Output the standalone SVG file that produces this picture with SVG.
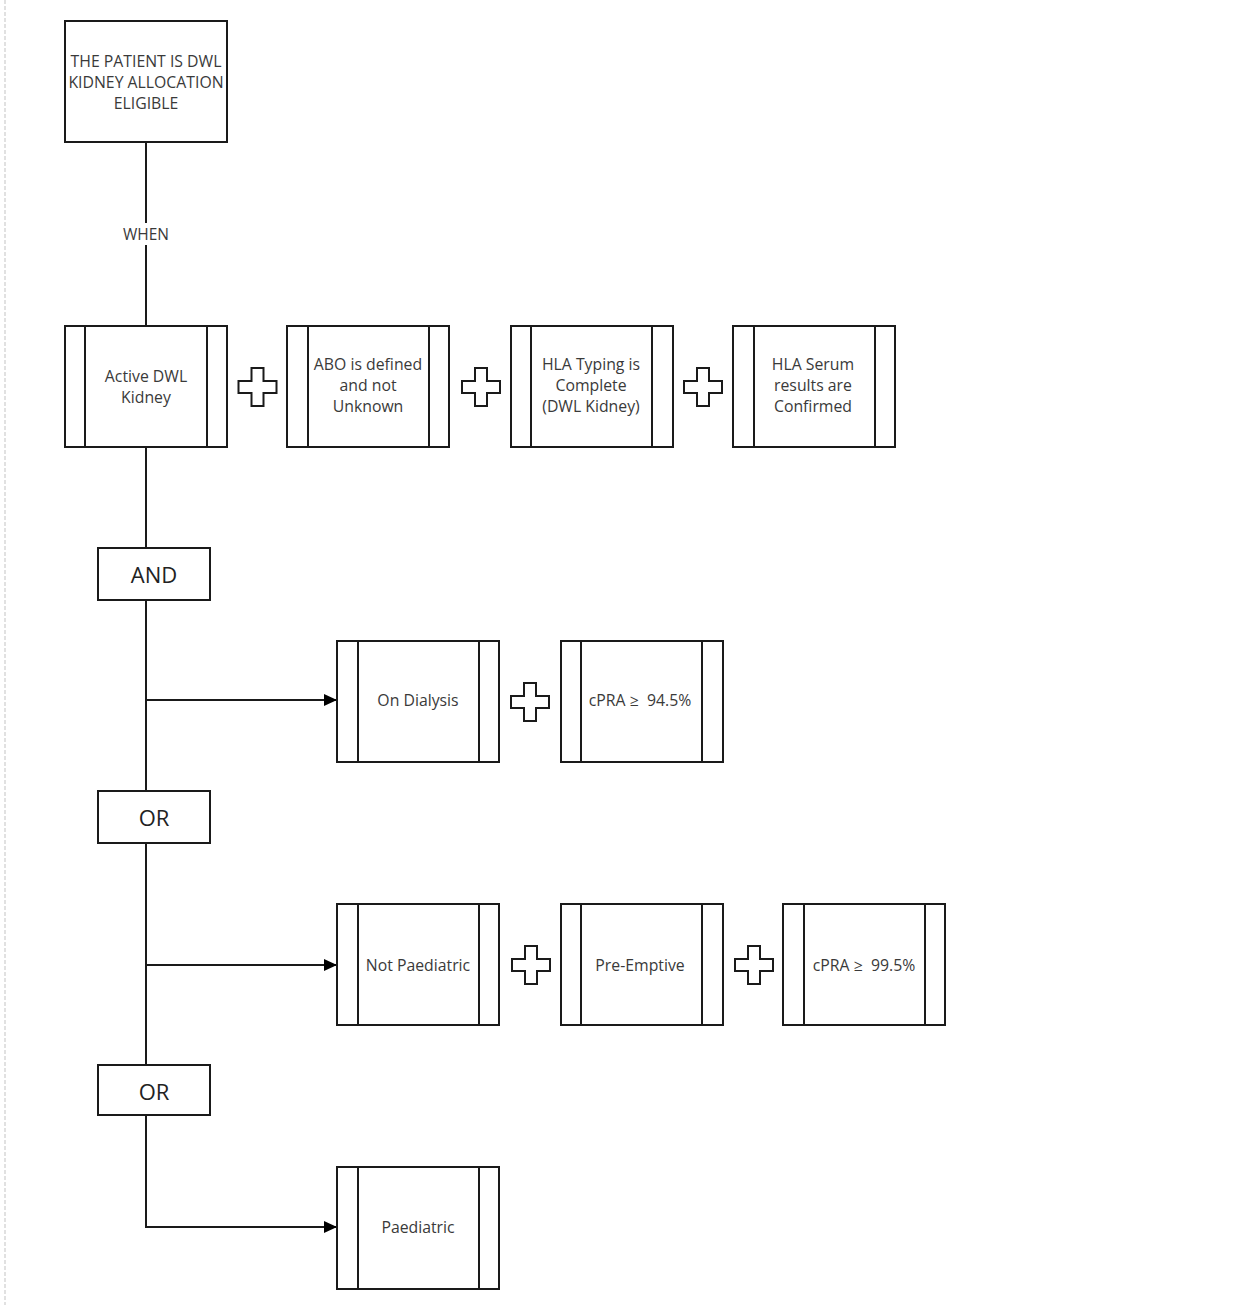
<svg xmlns="http://www.w3.org/2000/svg" width="1252" height="1305" viewBox="0 0 1252 1305">
<defs>
<style>
.box{fill:#fff;stroke:#1a1a1a;stroke-width:2}
.strip{stroke:#1a1a1a;stroke-width:2}
.t{font-family:"Open Sans","Liberation Sans",Arial,sans-serif;font-size:15.8px;fill:#3a3a3a;text-anchor:middle;dominant-baseline:central}
.big{font-family:"Open Sans","Liberation Sans",Arial,sans-serif;font-size:22px;fill:#222;text-anchor:middle;dominant-baseline:central}
.conn{fill:none;stroke:#1a1a1a;stroke-width:2}
.plus{fill:#fff;stroke:#1a1a1a;stroke-width:2}
</style>
<marker id="arr" viewBox="0 0 13 12" refX="13" refY="6" markerWidth="13" markerHeight="12" markerUnits="userSpaceOnUse" orient="auto">
<path d="M0,0 L13,6 L0,12 Z" fill="#000"/>
</marker>
<path id="plusShape" d="M-6,-19 H6 V-6 H19 V6 H6 V19 H-6 V6 H-19 V-6 H-6 Z"/>
</defs>
<rect width="1252" height="1305" fill="#fff"/>
<line x1="5" y1="0" x2="5" y2="1305" stroke="#d8d8d8" stroke-width="1.5" stroke-dasharray="4,2"/>

<g id="connectors">
<line class="conn" x1="146" y1="142" x2="146" y2="326"/>
<rect x="116" y="223" width="60" height="22" fill="#fff"/>
<text class="t" x="146" y="234" style="font-size:15.5px">WHEN</text>
<line class="conn" x1="146" y1="447" x2="146" y2="548"/>
<line class="conn" x1="146" y1="600" x2="146" y2="791"/>
<path class="conn" d="M146,700 H337" marker-end="url(#arr)"/>
<line class="conn" x1="146" y1="843" x2="146" y2="1065"/>
<path class="conn" d="M146,965 H337" marker-end="url(#arr)"/>
<path class="conn" d="M146,1115 V1227 H337" marker-end="url(#arr)"/>
</g>

<g id="start">
<rect class="box" x="65" y="21" width="162" height="121"/>
<text class="t" x="146" y="61">THE PATIENT IS DWL</text>
<text class="t" x="146" y="82">KIDNEY ALLOCATION</text>
<text class="t" x="146" y="103">ELIGIBLE</text>
</g>

<g id="activeDWL">
<rect class="box" x="65" y="326" width="162" height="121"/>
<line class="strip" x1="85" y1="326" x2="85" y2="447"/>
<line class="strip" x1="207" y1="326" x2="207" y2="447"/>
<text class="t" x="146" y="376">Active DWL</text>
<text class="t" x="146" y="397">Kidney</text>
</g>
<g id="plus1"><use href="#plusShape" class="plus" x="257.5" y="387"/></g>
<g id="abo">
<rect class="box" x="287" y="326" width="162" height="121"/>
<line class="strip" x1="308" y1="326" x2="308" y2="447"/>
<line class="strip" x1="429" y1="326" x2="429" y2="447"/>
<text class="t" x="368" y="364">ABO is defined</text>
<text class="t" x="368" y="385">and not</text>
<text class="t" x="368" y="406">Unknown</text>
</g>
<g id="plus2"><use href="#plusShape" class="plus" x="481" y="387"/></g>
<g id="hlaTyping">
<rect class="box" x="511" y="326" width="162" height="121"/>
<line class="strip" x1="531" y1="326" x2="531" y2="447"/>
<line class="strip" x1="652" y1="326" x2="652" y2="447"/>
<text class="t" x="591" y="364">HLA Typing is</text>
<text class="t" x="591" y="385">Complete</text>
<text class="t" x="591" y="406">(DWL Kidney)</text>
</g>
<g id="plus3"><use href="#plusShape" class="plus" x="703" y="387"/></g>
<g id="hlaSerum">
<rect class="box" x="733" y="326" width="162" height="121"/>
<line class="strip" x1="754" y1="326" x2="754" y2="447"/>
<line class="strip" x1="875" y1="326" x2="875" y2="447"/>
<text class="t" x="813" y="364">HLA Serum</text>
<text class="t" x="813" y="385">results are</text>
<text class="t" x="813" y="406">Confirmed</text>
</g>

<g id="and">
<rect class="box" x="98" y="548" width="112" height="52"/>
<text class="big" x="154" y="574">AND</text>
</g>

<g id="onDialysis">
<rect class="box" x="337" y="641" width="162" height="121"/>
<line class="strip" x1="358" y1="641" x2="358" y2="762"/>
<line class="strip" x1="479" y1="641" x2="479" y2="762"/>
<text class="t" x="418" y="700">On Dialysis</text>
</g>
<g id="plus4"><use href="#plusShape" class="plus" x="530" y="702"/></g>
<g id="cpra945">
<rect class="box" x="561" y="641" width="162" height="121"/>
<line class="strip" x1="581" y1="641" x2="581" y2="762"/>
<line class="strip" x1="702" y1="641" x2="702" y2="762"/>
<text class="t" x="640" y="700">cPRA ≥&#160; 94.5%</text>
</g>

<g id="or1">
<rect class="box" x="98" y="791" width="112" height="52"/>
<text class="big" x="154" y="817">OR</text>
</g>

<g id="notPaediatric">
<rect class="box" x="337" y="904" width="162" height="121"/>
<line class="strip" x1="358" y1="904" x2="358" y2="1025"/>
<line class="strip" x1="479" y1="904" x2="479" y2="1025"/>
<text class="t" x="418" y="965">Not Paediatric</text>
</g>
<g id="plus5"><use href="#plusShape" class="plus" x="531" y="965"/></g>
<g id="preEmptive">
<rect class="box" x="561" y="904" width="162" height="121"/>
<line class="strip" x1="581" y1="904" x2="581" y2="1025"/>
<line class="strip" x1="702" y1="904" x2="702" y2="1025"/>
<text class="t" x="640" y="965">Pre-Emptive</text>
</g>
<g id="plus6"><use href="#plusShape" class="plus" x="754" y="965"/></g>
<g id="cpra995">
<rect class="box" x="783" y="904" width="162" height="121"/>
<line class="strip" x1="804" y1="904" x2="804" y2="1025"/>
<line class="strip" x1="925" y1="904" x2="925" y2="1025"/>
<text class="t" x="864" y="965">cPRA ≥&#160; 99.5%</text>
</g>

<g id="or2">
<rect class="box" x="98" y="1065" width="112" height="50"/>
<text class="big" x="154" y="1091">OR</text>
</g>

<g id="paediatric">
<rect class="box" x="337" y="1167" width="162" height="122"/>
<line class="strip" x1="358" y1="1167" x2="358" y2="1289"/>
<line class="strip" x1="479" y1="1167" x2="479" y2="1289"/>
<text class="t" x="418" y="1227">Paediatric</text>
</g>
</svg>
